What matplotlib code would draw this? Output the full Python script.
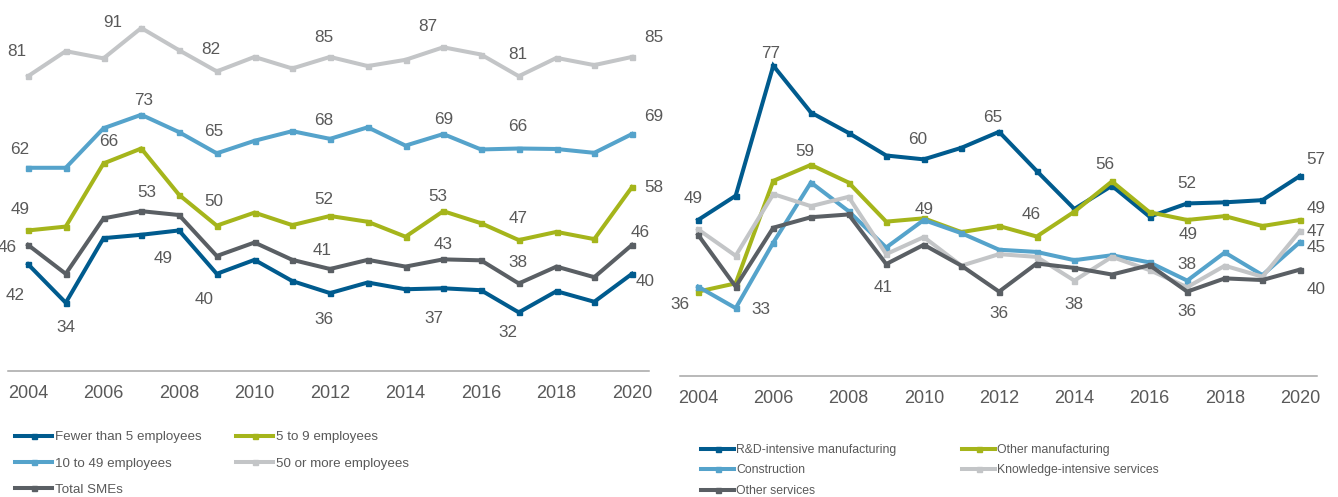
import matplotlib
matplotlib.use("Agg")
import matplotlib.pyplot as plt
from matplotlib import font_manager

plt.rcParams["font.family"] = ["Liberation Sans", "DejaVu Sans"]

# ---------------- data ----------------
years = list(range(2004, 2021))
tick_years = list(range(2004, 2021, 2))

size_labels = ["Fewer than 5 employees", "5 to 9 employees", "10 to 49 employees",
               "50 or more employees", "Total SMEs"]
fewer5 = [42, 34, 47.4, 48.1, 49, 40, 42.9, 38.5, 36, 38.2, 36.8, 37, 36.6, 32, 36.4, 34.2, 40]
five9 = [49, 49.8, 62.9, 66, 56.4, 50, 52.7, 50.1, 52, 50.8, 47.7, 53, 50.5, 47, 48.7, 47.2, 58]
ten49 = [62, 62, 70.2, 73, 69.4, 65, 67.6, 69.6, 68, 70.4, 66.6, 69, 65.8, 66, 65.9, 65.1, 69]
fifty = [81, 86.2, 84.7, 91, 86.4, 82, 85.0, 82.6, 85, 83.1, 84.4, 87, 85.5, 81, 84.8, 83.3, 85]
total = [46, 40.0, 51.5, 53, 52.2, 43.7, 46.5, 42.9, 41, 42.9, 41.5, 43, 42.8, 38, 41.5, 39.3, 46]

sector_labels = ["R&D-intensive manufacturing", "Other manufacturing", "Construction",
                 "Knowledge-intensive services", "Other services"]
rd_manuf = [49, 53.4, 77, 68.5, 64.8, 60.7, 60, 62.1, 65, 57.9, 51.0, 55.2, 49.6, 52, 52.2, 52.6, 57]
oth_manuf = [36, 37.5, 56.1, 59, 55.8, 48.7, 49.3, 46.8, 47.9, 46, 50.5, 56, 50.4, 49, 49.7, 47.9, 49]
construction = [36.9, 33, 44.9, 55.8, 50.6, 44.0, 49, 46.6, 43.6, 43.2, 41.7, 42.6, 41.3, 38, 43.1, 39.0, 45]
kis = [47.3, 42.5, 53.7, 51.5, 53.2, 42.8, 45.9, 40.7, 42.8, 42.3, 38, 42.3, 39.9, 36.8, 40.7, 38.7, 47]
oth_serv = [46.3, 36.9, 47.6, 49.5, 50.0, 41, 44.5, 40.7, 36, 41.1, 40.3, 39.1, 40.8, 36, 38.4, 38.1, 40]

# ---------------- styling ----------------
DARK_BLUE = "#005B8E"
GREEN = "#A5B51B"
LIGHT_BLUE = "#55A3CB"
LIGHT_GREY = "#C3C5C7"
DARK_GREY = "#5A5F64"
TEXT = "#595959"
AXIS = "#A6A6A6"

W, H = 1338, 497
fig = plt.figure(figsize=(W / 100, H / 100), dpi=100)


def px_axes(x0, x1, y_top, y_bottom):
    return fig.add_axes([x0 / W, 1 - y_bottom / H, (x1 - x0) / W, (y_bottom - y_top) / H])


def style_axes(ax):
    for side in ("left", "right", "top"):
        ax.spines[side].set_visible(False)
    ax.spines["bottom"].set_color(AXIS)
    ax.spines["bottom"].set_linewidth(1.1)
    ax.set_yticks([])
    ax.set_xticks(tick_years)
    ax.set_xticklabels([str(y) for y in tick_years])
    ax.tick_params(axis="x", length=0, pad=10, labelsize=13, labelcolor=TEXT)
    ax.patch.set_alpha(0)


def draw(ax, series, colors, labels):
    lines = []
    for vals, col, lab in zip(series, colors, labels):
        ln, = ax.plot(years, vals, color=col, lw=2.9, marker="s", ms=3.6,
                      solid_joinstyle="miter", label=lab, clip_on=False)
        lines.append(ln)
    return lines


def annotate(ax, vals, spec):
    for year, dx, dy in spec:
        v = vals[years.index(year)]
        ax.annotate(f"{v:.0f}", xy=(year, v), xytext=(dx, dy), textcoords="offset pixels",
                    ha="center", va="center", fontsize=12.3, color=TEXT,
                    annotation_clip=False)


# ---------------- left panel: firm size ----------------
axL = px_axes(8, 649, 0, 371)
axL.set_xlim(2003.47, 2020.45)
axL.set_ylim(19.84, 96.81)
style_axes(axL)
left_series = [fewer5, five9, ten49, fifty, total]
left_colors = [DARK_BLUE, GREEN, LIGHT_BLUE, LIGHT_GREY, DARK_GREY]
linesL = draw(axL, left_series, left_colors, size_labels)

annotate(axL, fifty, [(2004, -11, 25), (2007, -29, 6), (2009, -6, 22), (2012, -6, 19),
                      (2015, -15, 21), (2017, -1, 22), (2020, 22, 19)])
annotate(axL, ten49, [(2004, -8, 18), (2007, 2, 14), (2009, -3, 22), (2012, -6, 18),
                      (2015, 0, 15), (2017, -1, 22), (2020, 22, 18)])
annotate(axL, five9, [(2004, -8, 21), (2007, -33, 7), (2009, -3, 24), (2012, -6, 16),
                      (2015, -5, 15), (2017, -1, 22), (2020, 22, 0)])
annotate(axL, total, [(2004, -21, -3), (2007, 6, 19), (2012, -8, 19), (2015, 0, 15),
                      (2017, -1, 21), (2020, 8, 12)])
annotate(axL, fewer5, [(2004, -13, -31), (2005, 0, -25), (2008, -16, -28), (2009, -13, -26),
                       (2012, -6, -26), (2015, -9, -30), (2017, -11, -20), (2020, 13, -8)])

# ---------------- right panel: sector ----------------
axR = px_axes(680, 1317, 0, 375.7)
axR.set_xlim(2003.52, 2020.45)
axR.set_ylim(20.74, 88.92)
style_axes(axR)
right_series = [rd_manuf, oth_manuf, construction, kis, oth_serv]
right_colors = [DARK_BLUE, GREEN, LIGHT_BLUE, LIGHT_GREY, DARK_GREY]
linesR = draw(axR, right_series, right_colors, sector_labels)

annotate(axR, rd_manuf, [(2004, -5, 21), (2006, -3, 12), (2010, -6, 20), (2012, -6, 14),
                         (2017, 0, 20), (2020, 16, 16)])
annotate(axR, oth_manuf, [(2004, -18, -13), (2007, -6, 13), (2013, -6, 22), (2015, -7, 17),
                          (2017, 1, -15), (2020, 16, 11)])
annotate(axR, construction, [(2005, 25, -1), (2010, 0, 10), (2017, 0, 16), (2020, 16, -5)])
annotate(axR, kis, [(2014, 0, -24), (2020, 16, -1)])
annotate(axR, oth_serv, [(2009, -3, -23), (2012, 0, -22), (2017, 0, -20), (2020, 16, -20)])

# ---------------- legends ----------------
names = {f.name for f in font_manager.fontManager.ttflist}
narrow = "Liberation Sans Narrow" in names
leg_family = ["Liberation Sans Narrow", "Liberation Sans"] if narrow else ["Liberation Sans"]
scale = 1.0 if narrow else 0.84


def legend_column(handles, x_px, top_px, size, row_px, handle_px):
    fs_px = size * scale * 100 / 72
    fp = font_manager.FontProperties(family=leg_family, size=size * scale)
    spacing = (row_px - 0.9 * fs_px) / fs_px
    leg = fig.legend(handles=handles, loc="upper left",
                     bbox_to_anchor=(x_px / W, 1 - top_px / H),
                     frameon=False, borderpad=0, borderaxespad=0, prop=fp,
                     handlelength=handle_px / fs_px,
                     handletextpad=0.2, labelspacing=spacing, numpoints=1,
                     labelcolor=TEXT)
    return leg


legend_column([linesL[0], linesL[2], linesL[4]], 15, 431, 11.5, 26, 37)
legend_column([linesL[1], linesL[3]], 236, 431, 11.5, 26, 37)
legend_column([linesR[0], linesR[2], linesR[4]], 701, 444, 10.5, 19.5, 33)
legend_column([linesR[1], linesR[3]], 962, 444, 10.5, 19.5, 33)

fig.savefig("out.png", dpi=100)
